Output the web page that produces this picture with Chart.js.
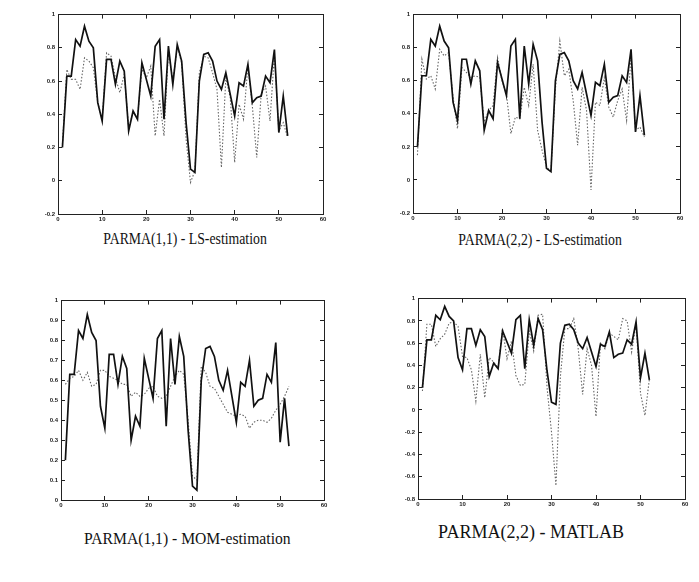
<!DOCTYPE html>
<html>
<head>
<meta charset="utf-8">
<script src="https://cdn.jsdelivr.net/npm/chart.js@4/dist/chart.umd.min.js"></script>
<style>
  body { margin: 0; background: #fff; width: 699px; height: 582px; position: relative; overflow: hidden; }
  canvas { position: absolute; }
  .cap { position: absolute; font-family: "Liberation Serif", "Times New Roman", serif; color: #111;
         white-space: nowrap; transform-origin: center center; }
</style>
</head>
<body>
<canvas id="c1"></canvas>
<canvas id="c2"></canvas>
<canvas id="c3"></canvas>
<canvas id="c4"></canvas>
<div class="cap" id="t1">PARMA(1,1) - LS-estimation</div>
<div class="cap" id="t2">PARMA(2,2) - LS-estimation</div>
<div class="cap" id="t3">PARMA(1,1) - MOM-estimation</div>
<div class="cap" id="t4">PARMA(2,2) - MATLAB</div>
<script>
// x positions (period index)
const weeks = [1, 2, 3, 4, 5, 6, 7, 8, 9, 10, 11, 12, 13, 14, 15, 16, 17, 18, 19, 20,
  21, 22, 23, 24, 25, 26, 27, 28, 29, 30, 31, 32, 33, 34, 35, 36, 37, 38, 39, 40,
  41, 42, 43, 44, 45, 46, 47, 48, 49, 50, 51, 52];

// observed series (solid line, same in every panel)
const observed = [0.20, 0.63, 0.63, 0.85, 0.81, 0.93, 0.84, 0.80, 0.47, 0.36,
  0.73, 0.73, 0.58, 0.72, 0.66, 0.30, 0.42, 0.37, 0.71, 0.61,
  0.51, 0.81, 0.85, 0.37, 0.81, 0.58, 0.82, 0.72, 0.35, 0.07,
  0.05, 0.60, 0.76, 0.77, 0.72, 0.60, 0.55, 0.65, 0.52, 0.39,
  0.59, 0.57, 0.70, 0.47, 0.50, 0.51, 0.63, 0.59, 0.79, 0.29,
  0.51, 0.27];

// fitted series (dotted lines)
const ls11 = [0.22, 0.67, 0.61, 0.61, 0.55, 0.74, 0.72, 0.68, 0.47, 0.37,
  0.77, 0.75, 0.62, 0.53, 0.64, 0.32, 0.41, 0.38, 0.67, 0.62,
  0.69, 0.27, 0.49, 0.27, 0.78, 0.60, 0.80, 0.71, 0.25, -0.01,
  0.06, 0.65, 0.75, 0.74, 0.65, 0.55, 0.08, 0.62, 0.50, 0.11,
  0.46, 0.37, 0.69, 0.45, 0.14, 0.52, 0.57, 0.36, 0.76, 0.30,
  0.35, 0.26];
const ls22 = [0.15, 0.73, 0.61, 0.63, 0.55, 0.79, 0.75, 0.77, 0.50, 0.31,
  0.68, 0.65, 0.62, 0.63, 0.62, 0.35, 0.42, 0.45, 0.74, 0.60,
  0.52, 0.28, 0.38, 0.37, 0.56, 0.45, 0.70, 0.30, 0.18, 0.08,
  0.05, 0.55, 0.84, 0.63, 0.67, 0.48, 0.21, 0.56, 0.42, -0.06,
  0.47, 0.45, 0.62, 0.44, 0.38, 0.48, 0.55, 0.36, 0.75, 0.30,
  0.32, 0.26];
const mom11 = [0.58, 0.61, 0.62, 0.65, 0.60, 0.64, 0.57, 0.58, 0.65, 0.65,
  0.62, 0.61, 0.60, 0.58, 0.58, 0.52, 0.54, 0.52, 0.53, 0.56,
  0.57, 0.52, 0.51, 0.52, 0.57, 0.62, 0.65, 0.63, 0.40, 0.12,
  0.10, 0.67, 0.64, 0.57, 0.56, 0.52, 0.48, 0.44, 0.43, 0.42,
  0.43, 0.42, 0.36, 0.39, 0.40, 0.40, 0.39, 0.41, 0.45, 0.48,
  0.52, 0.57];
const matlab22 = [0.17, 0.77, 0.77, 0.57, 0.64, 0.68, 0.78, 0.79, 0.75, 0.48,
  0.47, 0.36, 0.08, 0.50, 0.11, 0.47, 0.43, 0.38, 0.73, 0.46,
  0.62, 0.31, 0.22, 0.23, 0.71, 0.53, 0.85, 0.86, 0.20, -0.20,
  -0.68, 0.30, 0.73, 0.73, 0.82, 0.55, 0.14, 0.55, 0.40, -0.06,
  0.60, 0.55, 0.69, 0.66, 0.63, 0.82, 0.80, 0.52, 0.77, 0.15,
  -0.05, 0.28];

// axis ranges
const xRange = [0, 60, 10];
const yRangeLS = [-0.2, 1, 0.2];
const yRangeMOM = [0, 1, 0.1];
const yRangeMAT = [-0.8, 1, 0.2];

function points(vals) {
  return weeks.map((w, i) => ({ x: w, y: vals[i] }));
}

// one axis of the MATLAB style box: solid border, short ticks pointing inward
function boxAxis(position, range, showLabels, fitSize, labelPad) {
  return {
    type: "linear", position: position, min: range[0], max: range[1],
    border: { display: true, color: "#222", width: 1 },
    grid: { drawOnChartArea: false, drawTicks: true, tickLength: -4, color: "#222", lineWidth: 1 },
    ticks: {
      display: showLabels, stepSize: range[2], color: "#222", padding: labelPad, maxRotation: 0,
      font: { family: "Liberation Sans, Arial, sans-serif", size: 6, weight: "bold" },
      callback: v => String(Number(v.toFixed(1)))
    },
    afterFit(s) {
      if (position === "top" || position === "bottom") s.height = fitSize;
      else s.width = fitSize;
    }
  };
}

function makeChart(id, box, fitted, yr) {
  const padL = 40, padT = 8, padR = 12, padB = 16;
  const w = box.right - box.left + padL + padR;
  const h = box.bottom - box.top + padT + padB;
  const cv = document.getElementById(id);
  cv.width = w; cv.height = h;
  cv.style.left = (box.left - padL) + "px";
  cv.style.top = (box.top - padT) + "px";
  new Chart(cv.getContext("2d"), {
    type: "line",
    data: {
      datasets: [
        { data: points(observed), borderColor: "#111", borderWidth: 1.7, pointRadius: 0, tension: 0 },
        { data: points(fitted), borderColor: "#666", borderWidth: 1.1, borderDash: [1.5, 1.8], pointRadius: 0, tension: 0 }
      ]
    },
    options: {
      responsive: false,
      animation: false,
      layout: { padding: { top: padT, right: padR, left: 0, bottom: 0 } },
      plugins: { legend: { display: false }, tooltip: { enabled: false } },
      scales: {
        x: boxAxis("bottom", xRange, true, padB, 6),
        y: boxAxis("left", yr, true, padL, 7),
        x2: boxAxis("top", xRange, false, 0, 0),
        y2: boxAxis("right", yr, false, 0, 0)
      }
    }
  });
}

makeChart("c1", { left: 58, top: 12, right: 323, bottom: 214 }, ls11, yRangeLS);
makeChart("c2", { left: 413, top: 12, right: 680, bottom: 213 }, ls22, yRangeLS);
makeChart("c3", { left: 61, top: 298, right: 324, bottom: 500 }, mom11, yRangeMOM);
makeChart("c4", { left: 418, top: 296, right: 685, bottom: 499 }, matlab22, yRangeMAT);

// captions: centre x, centre y, font size, horizontal squeeze
const caps = [["t1", 185, 239, 16, 0.86], ["t2", 540, 240, 16, 0.86],
              ["t3", 187, 539, 17, 0.92], ["t4", 531, 532, 18, 1.0]];
caps.forEach(([id, cx, cy, fs, sx]) => {
  const el = document.getElementById(id);
  el.style.fontSize = fs + "px";
  const r = el.getBoundingClientRect();
  el.style.left = (cx - r.width / 2) + "px";
  el.style.top = (cy - r.height / 2) + "px";
  el.style.transform = "scaleX(" + sx + ")";
});
</script>
</body>
</html>
